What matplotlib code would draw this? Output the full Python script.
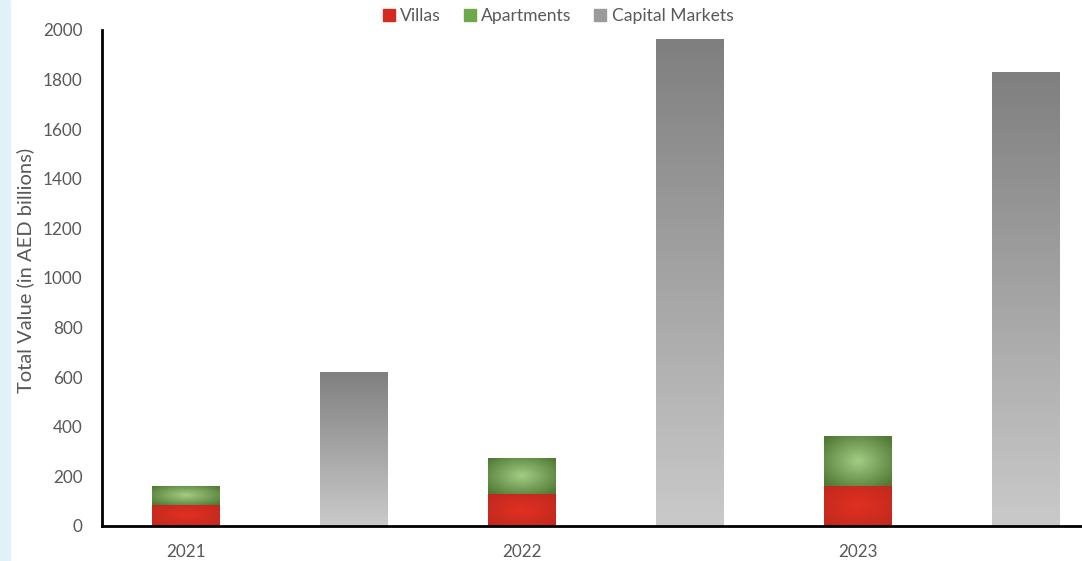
import matplotlib.pyplot as plt
import numpy as np
from matplotlib.patches import Rectangle, Patch

years = ["2021", "2022", "2023"]
villas = [85, 128, 163]
apartments = [77, 146, 200]
capital_markets = [621, 1962, 1831]

plt.rcParams["font.family"] = ["Lato", "DejaVu Sans"]
TXT = "#595959"


def radial(c_mid, c_edge, n=64):
    xx, yy = np.meshgrid(np.linspace(-1, 1, n), np.linspace(-1, 1, n))
    r = np.clip(np.sqrt(xx ** 2 + yy ** 2) / 1.3, 0, 1)[..., None]
    return (1 - r) * np.array(c_mid) + r * np.array(c_edge)


def vertical(c_top, c_bot, n=64):
    t = np.linspace(0, 1, n)[:, None, None] * np.ones((1, 4, 1))
    return (1 - t) * np.array(c_top) + t * np.array(c_bot)


def fill_gradient(ax, bars, img):
    for b in bars:
        x0, y0 = b.get_x(), b.get_y()
        w, h = b.get_width(), b.get_height()
        im = ax.imshow(img, extent=(x0, x0 + w, y0, y0 + h), origin="upper",
                       aspect="auto", zorder=2, interpolation="bilinear")
        im.set_clip_path(b)


def main():
    fig = plt.figure(figsize=(10.82, 5.61), dpi=100)
    fig.patches.append(Rectangle((0, 0), 10 / 1082, 1, transform=fig.transFigure,
                                 color="#e1f1f6", zorder=0))
    ax = fig.add_axes([102 / 1082, 35 / 561, 980 / 1082, 496 / 561])

    x = np.arange(len(years))
    w = 0.2
    b1 = ax.bar(x, villas, w, color="none", edgecolor="none")
    b2 = ax.bar(x, apartments, w, bottom=villas, color="none", edgecolor="none")
    b3 = ax.bar(x + 0.5, capital_markets, w, color="none", edgecolor="none")

    red = radial((0.88, 0.19, 0.13), (0.76, 0.16, 0.12))
    green = radial((0.64, 0.80, 0.52), (0.32, 0.48, 0.21))
    gray = vertical((0.50, 0.50, 0.50), (0.79, 0.79, 0.79))
    fill_gradient(ax, b1, red)
    fill_gradient(ax, b2, green)
    fill_gradient(ax, b3, gray)

    ax.set_xlim(-0.25, 2.667)
    ax.set_ylim(0, 2000)
    ax.set_yticks(range(0, 2001, 200))
    ax.set_xticks(x)
    ax.set_xticklabels(years)
    ax.tick_params(length=0, labelsize=12.3, labelcolor=TXT)
    ax.tick_params(axis="y", pad=14)
    ax.tick_params(axis="x", pad=13)
    for s in ["top", "right"]:
        ax.spines[s].set_visible(False)
    for s in ["left", "bottom"]:
        ax.spines[s].set_linewidth(2)
        ax.spines[s].set_color("black")
    ax.set_ylabel("Total Value (in AED billions)", fontsize=14.5, color=TXT)
    ax.yaxis.set_label_coords(-68 / 980, 0.515)

    handles = [Patch(color="#d42a20", label="Villas"),
               Patch(color="#6fa84a", label="Apartments"),
               Patch(color="#9a9a9a", label="Capital Markets")]
    fig.legend(handles=handles, loc="center", bbox_to_anchor=(558 / 1082, 1 - 16 / 561),
               ncol=3, frameon=False, fontsize=12.6, labelcolor=TXT, handlelength=0.7,
               handleheight=0.7, handletextpad=0.3, columnspacing=1.3)

    fig.savefig("out.png")


if __name__ == "__main__":
    main()
